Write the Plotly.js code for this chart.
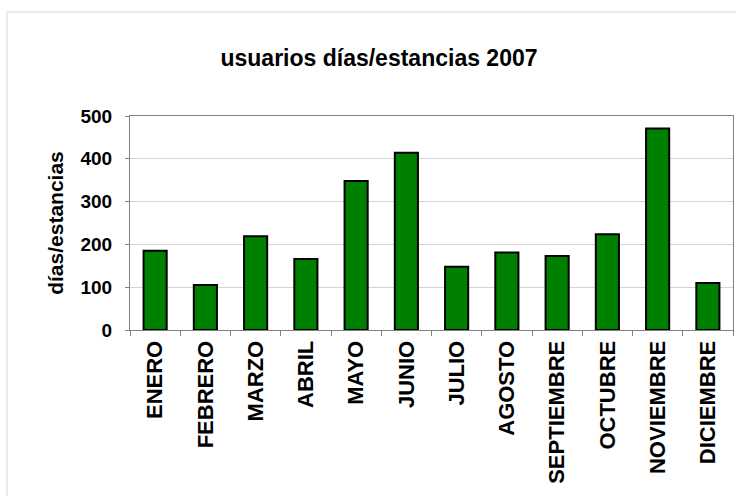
<!DOCTYPE html>
<html>
<head>
<meta charset="utf-8">
<script src="https://cdn.plot.ly/plotly-3.0.1.min.js"></script>
<style>
html,body{margin:0;padding:0;background:#fff;}
#chart{width:736px;height:496px;}
</style>
</head>
<body>
<div id="chart"></div>
<script>
const months = ["ENERO","FEBRERO","MARZO","ABRIL","MAYO","JUNIO","JULIO","AGOSTO","SEPTIEMBRE","OCTUBRE","NOVIEMBRE","DICIEMBRE"];
const dias = [185, 105, 219, 166, 348, 414, 148, 181, 173, 224, 471, 110];
const yTicks = [0, 100, 200, 300, 400, 500];

const trace = {
  type: "bar",
  x: months,
  y: dias,
  width: 0.46,
  marker: {color: "#008000", line: {color: "#000000", width: 2}},
  hoverinfo: "x+y"
};

const fam = "Liberation Sans, Arial, sans-serif";

const layout = {
  width: 736, height: 496,
  margin: {l: 130, r: 3, t: 116, b: 166, pad: 0},
  paper_bgcolor: "#fff",
  plot_bgcolor: "#fff",
  showlegend: false,
  title: {
    text: "usuarios días/estancias 2007",
    font: {family: fam, size: 23, color: "#000", weight: "bold"},
    x: 379 / 736, xref: "container", xanchor: "center",
    y: 45, yref: "container", yanchor: "middle"
  },
  xaxis: {
    type: "category",
    tickangle: -90,
    tickfont: {family: fam, size: 22, color: "#000", weight: "bold"},
    showgrid: false,
    showline: true, linecolor: "#808080", linewidth: 1, mirror: true,
    ticks: "outside", tickson: "boundaries", ticklen: 5, tickcolor: "#808080",
    ticklabelstandoff: 1,
    automargin: false,
    fixedrange: true
  },
  yaxis: {
    range: [0, 500],
    tickvals: yTicks,
    ticktext: yTicks.map(String),
    tickfont: {family: fam, size: 19, color: "#000", weight: "bold"},
    showgrid: true, gridcolor: "#d4d4d4", gridwidth: 1,
    zeroline: false,
    showline: true, linecolor: "#808080", linewidth: 1, mirror: true,
    ticks: "outside", ticklen: 4, tickcolor: "#808080",
    ticklabelstandoff: 9,
    title: {text: "días/estancias", font: {family: fam, size: 21, color: "#000", weight: "bold"}, standoff: 11},
    automargin: false,
    fixedrange: true
  },
  shapes: [{
    type: "rect", xref: "paper", yref: "paper",
    x0: -123/603, x1: 1.01, y0: -1.2, y1: 1 + 104/214,
    line: {color: "#d8d8d8", width: 1}, fillcolor: "rgba(0,0,0,0)", layer: "below"
  }]
};

Plotly.newPlot("chart", [trace], layout, {displayModeBar: false});
</script>
</body>
</html>
